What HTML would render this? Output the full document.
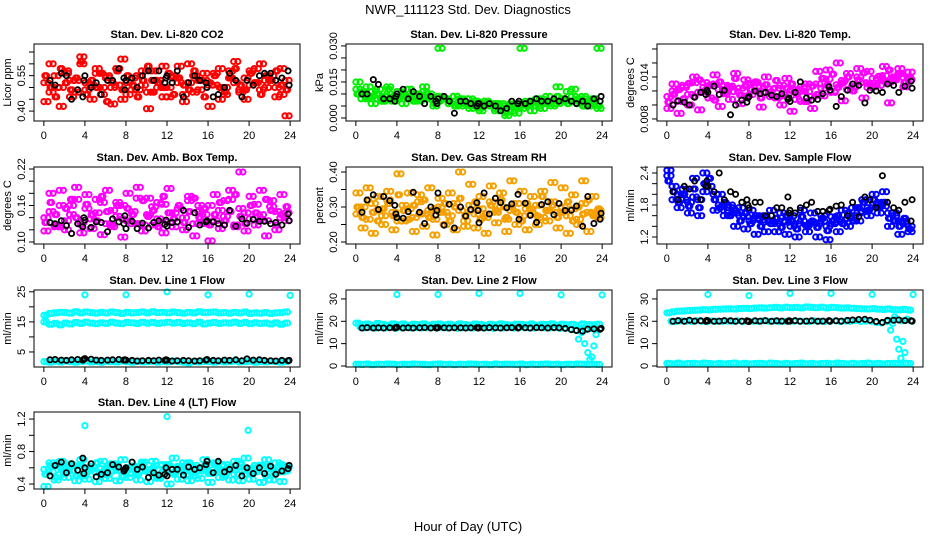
<!DOCTYPE html>
<html><head><meta charset="utf-8"><style>
html,body{margin:0;padding:0;background:#fff}
svg{display:block;font-family:"Liberation Sans",Arial,sans-serif}
</style></head><body>
<svg id="chart" width="936" height="540" viewBox="0 0 936 540" xmlns="http://www.w3.org/2000/svg">
<rect x="0" y="0" width="936" height="540" fill="#fff"/>
<text x="468" y="14" text-anchor="middle" font-size="13">NWR_111123  Std. Dev. Diagnostics</text>
<text x="468" y="531" text-anchor="middle" font-size="13">Hour of Day (UTC)</text>
</svg>
<script>
// ---------- shared x data ----------
const hoursA=[0,0.5,1,1.5,2,2.5,3,3.5,4,4.5,5,5.5,6,6.5,7,7.5,8,8.5,9,9.5,10,10.5,11,11.5,12,12.5,13,13.5,14,14.5,15,15.5,16,16.5,17,17.5,18,18.5,19,19.5,20,20.5,21,21.5,22,22.5,23,23.5];
const hoursB=[0.25,0.75,1.25,1.75,2.25,2.75,3.25,3.75,4.25,4.75,5.25,5.75,6.25,6.75,7.25,7.75,8.25,8.75,9.25,9.75,10.25,10.75,11.25,11.75,12.25,12.75,13.25,13.75,14.25,14.75,15.25,15.75,16.25,16.75,17.25,17.75,18.25,18.75,19.25,19.75,20.25,20.75,21.25,21.75,22.25,22.75,23.25,23.75];
const hoursC=[0.4,0.9,1.4,1.9,2.4,2.9,3.4,3.9,4.4,4.9,5.4,5.9,6.4,6.9,7.4,7.9,8.4,8.9,9.4,9.9,10.4,10.9,11.4,11.9,12.4,12.9,13.4,13.9,14.4,14.9,15.4,15.9,16.4,16.9,17.4,17.9,18.4,18.9,19.4,19.9,20.4,20.9,21.4,21.9,22.4,22.9,23.4,23.9];
const hoursD=[0.1,0.6,1.1,1.6,2.1,2.6,3.1,3.6,4.1,4.6,5.1,5.6,6.1,6.6,7.1,7.6,8.1,8.6,9.1,9.6,10.1,10.6,11.1,11.6,12.1,12.6,13.1,13.6,14.1,14.6,15.1,15.6,16.1,16.6,17.1,17.6,18.1,18.6,19.1,19.6,20.1,20.6,21.1,21.6,22.1,22.6,23.1,23.6];
const blackHours=[0.6,1.1,1.7,2.2,2.7,3.3,3.8,3.9,4.0,4.6,5.1,5.6,6.2,6.7,7.3,7.8,7.9,8.0,8.6,9.1,9.6,10.2,10.7,11.2,11.8,11.9,12.0,12.5,13.0,13.6,14.1,14.7,15.2,15.8,15.9,16.5,17.0,17.6,18.1,18.7,19.3,19.8,20.4,21.0,21.5,22.1,22.6,23.2,23.8,23.9];
const outlierHours=[4,8,12,16,20,24];
const xTicks=[0,4,8,12,16,20,24];

// ---------- CO2 (x0.01 ppm) ----------
const co2A=[52,48,55,50,57,46,53,60,49,51,56,47,54,50,58,45,52,49,55,51,48,57,53,46,50,54,59,47,52,55,49,53,51,56,45,50,57,52,48,54,51,58,49,53,55,50,47,53];
const co2B=[55,50,46,58,52,49,54,61,47,53,50,56,44,52,57,49,55,51,46,53,59,48,52,50,56,47,54,51,49,57,53,46,52,55,50,48,54,58,51,49,56,52,47,55,53,57,51,49];
const co2C=[44,60,50,42,56,53,48,63,52,45,58,50,55,43,51,62,47,54,49,57,41,53,50,59,46,55,52,44,60,48,53,56,42,51,58,47,54,61,49,45,57,52,60,50,55,46,58,38];
const co2K=[53,51,56,55,45,49,46,53,55,50,52,47,53,53,58,54,49,53,54,50,55,57,53,57,52,54,55,52,57,46,52,55,53,52,50,46,47,50,56,53,46,53,51,55,56,56,53,54,57,51];
// ---------- Pressure (x0.001 kPa) ----------
const prA=[12,10,9,11,8,9,10,7,11,9,8,10,9,11,8,7,9,8,6,9,7,6,8,5,6,7,5,4,6,5,3,5,4,6,3,5,6,7,5,6,8,7,9,7,8,6,7,4];
const prB=[10,11,8,9,10,7,12,9,8,10,9,7,10,8,9,6,7,8,7,5,8,6,5,7,4,6,5,6,4,2,5,4,6,5,7,6,8,6,7,9,8,6,7,8,5,7,6,5];
const prC=[15,8,13,6,12,7,13,8,11,6,12,9,7,13,10,5,29,8,6,9,5,8,4,7,3,7,6,3,5,1,6,2,29,7,5,8,4,9,6,13,7,11,12,6,9,5,8,29];
const prK=[10,10,16,14,8,8,7,9,10,12,8,11,9,6,9,7,6,8,9,7,2,7,7,6,5,6,6,5,6,5,3,4,7,6,7,6,7,8,7,7,8,7,8,7,6,7,5,8,7,9];
// ---------- Li-820 Temp (x0.0001 C) ----------
const tpA=[112,120,105,128,115,132,118,125,110,130,122,116,127,119,124,113,131,120,126,117,123,110,128,115,121,108,126,119,112,130,124,137,118,129,135,122,127,140,132,125,138,128,142,133,136,145,139,147];
const tpB=[104,115,122,109,131,112,136,120,128,107,133,118,125,138,114,127,122,133,110,129,119,135,113,124,130,116,120,105,127,115,138,128,144,125,132,140,120,136,146,130,126,141,134,150,138,144,132,140];
const tpC=[95,130,88,125,100,140,93,132,110,143,98,128,108,145,102,136,115,132,97,140,112,124,100,138,91,122,105,130,95,148,113,150,120,160,106,145,125,152,110,148,128,135,155,103,140,152,126,136];
const tpK=[100,106,104,100,111,118,115,121,118,127,115,121,86,100,107,104,110,112,120,116,118,114,112,116,108,110,105,118,133,110,107,108,116,126,121,98,112,121,130,128,103,121,120,118,130,128,118,127,134,124];
// ---------- Amb Box Temp (x0.001 C) ----------
const abA=[140,150,128,160,135,145,170,132,155,138,148,165,130,152,142,160,135,150,172,128,145,158,138,162,133,148,155,140,168,130,150,145,160,135,152,142,170,128,155,148,138,162,145,135,158,150,140,148];
const abB=[132,165,145,125,155,170,140,128,162,145,135,175,150,128,160,138,155,145,130,168,142,152,125,175,148,138,160,132,150,172,140,155,128,145,165,135,150,178,142,130,160,148,138,170,152,128,145,158];
const abC=[118,180,125,185,120,160,190,115,178,122,170,112,185,125,165,108,180,130,190,118,172,128,165,115,188,125,155,120,175,110,160,130,102,178,122,168,185,125,215,118,175,128,185,110,168,120,178,135];
const abK=[132,130,135,127,114,130,125,140,136,124,133,132,117,138,133,130,143,122,134,122,131,123,132,135,129,136,126,132,133,152,124,148,128,133,135,133,130,128,152,126,138,131,137,134,134,130,132,128,146,135];
// ---------- Gas Stream RH (x0.001 percent) ----------
const rhA=[280,300,265,310,290,275,320,285,260,305,295,270,315,280,290,265,300,285,275,310,290,260,305,280,295,270,315,285,300,265,290,310,275,295,280,305,270,290,315,285,300,275,295,265,310,285,280,290];
const rhB=[300,270,320,285,260,295,310,275,335,290,265,305,280,320,270,295,285,310,260,300,325,275,290,315,265,280,305,290,320,270,300,285,260,310,295,275,330,290,305,270,285,315,260,300,280,320,275,295];
const rhC=[340,240,355,225,330,250,345,235,395,260,340,230,335,245,355,220,325,250,340,235,400,245,365,240,330,225,360,255,340,230,375,250,345,235,330,250,345,260,370,240,355,225,335,250,375,230,330,270];
const rhK=[285,320,335,293,330,318,305,280,270,268,287,342,285,253,300,277,290,340,248,308,240,300,274,293,312,290,255,340,280,325,313,298,309,336,265,311,276,256,307,315,278,310,290,291,303,245,330,253,265,282];
// ---------- Sample Flow (x0.01 mL/min) ----------
const sfA=[235,215,200,190,185,195,190,205,215,200,180,170,175,165,160,158,150,155,152,148,150,145,150,148,140,145,150,142,148,145,150,140,145,148,152,155,160,165,168,175,180,185,178,165,160,150,145,140];
const sfB=[225,205,185,200,178,210,175,220,230,190,175,185,160,170,150,165,145,160,140,158,145,155,138,160,150,135,158,140,150,138,155,132,150,160,145,165,150,175,185,170,190,175,185,155,150,140,155,135];
const sfC=[245,190,175,210,165,230,160,240,215,170,200,160,180,140,175,135,170,125,160,130,170,130,165,125,160,120,170,130,165,120,160,115,158,130,170,140,175,150,190,160,200,165,205,140,165,125,150,130];
const sfK=[205,190,215,210,225,190,215,225,215,205,240,190,205,200,185,190,180,175,185,185,160,160,175,175,195,165,170,165,175,180,185,168,168,170,172,178,180,160,185,158,195,190,175,235,185,175,170,185,150,190];
// ---------- Line 1 Flow (mL/min) ----------
const l1Up=[17.2,17.8,18.0,18.2,18.1,17.9,18.4,18.0,18.3,18.1,17.9,18.2,18.0,18.3,18.1,17.8,18.2,18.0,18.1,18.3,18.0,18.4,18.1,18.2,18.0,18.3,18.1,17.9,18.2,18.0,18.4,18.1,18.2,18.3,18.0,18.1,17.9,18.2,18.0,18.3,17.8,18.0,17.9,18.1,17.8,18.0,18.1,18.3];
const l1Lo=[15.0,14.2,14.5,14.0,14.6,14.3,14.8,14.5,14.9,14.6,14.4,14.7,14.5,14.9,14.6,14.4,14.8,14.7,14.5,14.9,14.6,14.8,14.5,14.7,14.9,14.6,14.8,14.5,14.7,14.4,14.9,14.3,14.6,14.8,14.5,14.7,14.6,14.9,14.5,14.8,14.4,14.7,14.5,14.6,14.3,14.7,14.2,14.6];
const l1Bot=[1.8,1.6,1.9,1.7,2.0,1.8,1.6,1.9,2.0,1.7,1.8,1.6,1.9,1.8,1.7,2.0,1.8,1.6,1.9,1.7,1.8,1.9,1.6,1.8,1.7,2.0,1.8,1.6,1.4,1.8,1.7,1.9,1.8,1.6,1.9,1.7,1.8,2.0,1.7,1.8,1.9,1.6,1.8,1.7,1.9,1.8,1.6,1.8];
const l1Out=[24,24,25,24,24.2,23.8];
const l1K=[2.4,2.5,2.3,2.2,2.4,2.5,2.3,2.6,2.8,2.6,2.3,2.2,2.3,2.4,2.5,2.3,2.4,2.3,2.2,2.0,2.1,2.2,2.1,2.3,2.2,2.4,2.3,2.0,2.1,2.2,2.1,2.0,2.1,2.3,2.5,2.2,2.1,2.3,2.2,2.4,2.1,2.7,2.3,2.4,2.2,2.1,2.0,2.2,2.1,2.2];
// ---------- Line 2 Flow ----------
const l2Up=[19.2,18.5,18.8,18.2,19.0,18.6,18.3,18.9,18.4,18.8,18.2,18.7,18.5,18.9,18.3,18.6,18.8,18.4,18.7,18.2,18.9,18.5,18.3,18.8,18.6,18.2,18.7,18.4,18.9,18.5,18.3,18.7,18.6,18.4,18.8,18.2,18.6,18.5,18.9,18.3,18.7,18.4,18.6,18.2,18.8,18.5,18.4,18.7];
const l2Mid=[17.5,17.0,17.3,16.9,17.2,17.0,17.4,16.8,17.1,17.3,16.9,17.2,17.0,17.1,17.3,16.9,17.2,17.0,17.4,16.8,17.1,17.2,16.9,17.3,17.0,17.1,16.8,17.2,17.0,17.3,16.9,17.1,17.2,17.0,16.9,17.3,17.1,17.0,17.2,16.8,17.1,16.5,16.0,15.8,16.2,16.8,17.0,16.9];
const l2Bot=[0.8,0.7,0.9,0.6,0.8,0.7,0.9,0.8,0.6,0.8,0.7,0.9,0.8,0.7,0.6,0.8,0.9,0.7,0.8,0.6,0.8,0.7,0.9,0.8,0.7,0.8,0.6,0.9,0.7,0.8,0.8,0.7,0.9,0.6,0.8,0.7,0.8,0.9,0.7,0.8,0.6,0.8,0.7,0.9,0.8,0.7,0.8,0.7];
const l2Out=[32,32,32.5,32.5,31.8,31.8];
const dropHours2=[21.7,22.0,22.3,22.6,22.8,23.0,23.2,23.4];
const l2Drop=[12,15,10,6,3,4,9,14];
const l2K=[17.0,17.2,17.0,17.1,17.0,17.1,17.0,17.2,17.3,17.0,17.1,17.0,17.1,17.2,17.0,17.1,17.0,17.2,17.1,17.0,17.1,17.1,17.0,17.1,17.2,17.0,17.1,17.0,17.2,17.1,17.0,17.1,17.2,17.0,17.3,17.1,17.0,17.2,17.1,17.0,17.2,17.1,16.8,16.3,15.9,15.6,16.5,16.6,16.4,16.8];
// ---------- Line 3 Flow ----------
const l3Up=[23.8,24.2,24.5,24.6,24.8,24.9,25.0,25.2,25.1,25.3,25.4,25.5,25.6,25.5,25.7,25.8,25.7,25.9,26.0,25.9,26.1,26.2,26.0,26.3,26.1,26.2,26.0,26.4,26.2,26.1,26.3,26.0,26.2,26.1,25.9,26.0,25.8,25.7,25.6,25.5,25.7,25.4,25.3,25.5,25.2,25.1,25.3,25.0];
const l3Mid=[20.0,19.8,20.2,20.1,19.9,20.3,20.0,19.8,20.2,20.0,19.9,20.1,20.0,20.2,19.8,20.1,20.0,19.9,20.2,20.0,20.1,19.8,20.0,20.2,19.9,20.1,20.0,19.8,20.2,20.1,19.9,20.0,20.2,19.8,20.1,20.0,20.3,19.9,20.1,20.0,19.5,19.2,19.8,20.5,21.0,20.2,20.5,20.0];
const l3Bot=[1.2,1.0,1.3,0.9,1.1,1.2,1.0,1.3,1.1,0.9,1.2,1.0,1.1,1.3,1.0,1.2,0.9,1.1,1.2,1.0,1.3,1.1,0.9,1.2,1.0,1.1,1.3,1.0,1.2,0.9,1.1,1.2,1.0,1.3,1.1,0.9,1.2,1.0,1.1,1.3,1.0,1.2,0.9,1.1,1.2,1.0,1.3,1.1];
const l3Out=[32,31.5,32.5,32.5,32,32];
const dropHours3=[21.8,22.0,22.2,22.4,22.6,22.8,23.0,23.2,23.4];
const l3Drop=[16,19,22,12,7.5,3.5,11,6,21];
const l3K=[20.0,20.3,20.0,20.5,20.1,20.2,20.0,20.4,20.2,20.0,20.1,20.3,20.2,20.0,20.1,20.2,20.0,19.9,20.2,20.1,20.3,20.0,20.2,20.1,20.0,20.2,20.1,20.3,20.0,20.1,20.2,20.0,20.1,20.3,20.0,20.2,20.1,20.4,20.6,20.8,20.9,20.5,19.9,19.5,20.4,20.5,20.6,20.3,20.2,20.1];
// ---------- Line 4 (LT) Flow ----------
const l4A=[0.58,0.55,0.62,0.52,0.60,0.56,0.63,0.50,0.58,0.61,0.54,0.59,0.52,0.62,0.57,0.55,0.60,0.53,0.61,0.56,0.58,0.52,0.63,0.55,0.59,0.54,0.62,0.57,0.52,0.60,0.56,0.61,0.53,0.58,0.62,0.55,0.59,0.52,0.61,0.57,0.54,0.60,0.56,0.62,0.53,0.58,0.55,0.60];
const l4B=[0.52,0.63,0.48,0.60,0.55,0.65,0.50,0.62,0.54,0.58,0.66,0.51,0.60,0.56,0.64,0.49,0.57,0.62,0.52,0.65,0.55,0.60,0.48,0.58,0.64,0.52,0.60,0.55,0.66,0.50,0.58,0.62,0.53,0.64,0.56,0.50,0.61,0.57,0.65,0.52,0.59,0.55,0.63,0.50,0.60,0.54,0.64,0.56];
const l4C=[0.37,0.66,0.45,0.68,0.48,0.64,0.44,0.70,0.46,0.62,0.43,0.68,0.47,0.65,0.44,0.70,0.48,0.62,0.45,0.67,0.43,0.68,0.47,0.64,0.40,0.72,0.46,0.66,0.44,0.63,0.47,0.70,0.42,0.66,0.48,0.64,0.45,0.68,0.44,0.72,0.46,0.63,0.42,0.70,0.45,0.66,0.43,0.62];
const l4Out=[1.12,1.23,1.06];
const l4OutHours=[4,12,19.9];
const l4K=[0.50,0.63,0.67,0.54,0.65,0.57,0.72,0.53,0.60,0.65,0.49,0.52,0.54,0.64,0.61,0.56,0.58,0.60,0.67,0.58,0.61,0.48,0.54,0.51,0.52,0.60,0.50,0.58,0.58,0.51,0.61,0.58,0.60,0.64,0.68,0.54,0.68,0.55,0.58,0.63,0.50,0.60,0.53,0.60,0.53,0.62,0.52,0.56,0.59,0.63];

// ---------- layout ----------
const colX=[[34,300],[346,612],[657,923]];
const rowY=[[44,121],[167,244],[290,367],[412,489]];
const XMIN=-0.96, XMAX=24.96;
const svg=document.getElementById('chart');
const NS='http://www.w3.org/2000/svg';
function mk(tag,attrs,parent){const e=document.createElementNS(NS,tag);for(const k in attrs)e.setAttribute(k,attrs[k]);(parent||svg).appendChild(e);return e;}
function dense(A,B,C,s,col){return [[hoursA,A,s,col],[hoursB,B,s,col],[hoursC,C,s,col],[hoursD,B,s,col],[hoursC,A,s,col],[hoursA,C,s,col]];}

const panels=[
 {id:'co2',title:'Stan. Dev. Li-820 CO2',ytitle:'Licor ppm',c:0,r:0,ylim:[0.358,0.684],ticks:[0.40,0.45,0.50,0.55,0.60,0.65],labels:['0.40','','','0.55','',''],
  series:dense(co2A,co2B,co2C,0.01,'#ff0000').concat([[blackHours,co2K,0.01,'#000000']])},
 {id:'pressure',title:'Stan. Dev. Li-820 Pressure',ytitle:'kPa',c:1,r:0,ylim:[-0.00125,0.0308],ticks:[0,0.005,0.010,0.015,0.020,0.025,0.030],labels:['0.000','','','0.015','','','0.030'],
  series:dense(prA,prB,prC,0.001,'#00ee00').concat([[blackHours,prK,0.001,'#000000']])},
 {id:'li820-temp',title:'Stan. Dev. Li-820 Temp.',ytitle:'degrees C',c:2,r:0,ylim:[0.00771,0.01871],ticks:[0.008,0.010,0.012,0.014,0.016,0.018],labels:['0.008','','','0.014','',''],
  series:dense(tpA,tpB,tpC,0.0001,'#ff00ff').concat([[blackHours,tpK,0.0001,'#000000']])},
 {id:'amb-box-temp',title:'Stan. Dev. Amb. Box Temp.',ytitle:'degrees C',c:0,r:1,ylim:[0.0967,0.2233],ticks:[0.10,0.12,0.14,0.16,0.18,0.20,0.22],labels:['0.10','','','0.16','','','0.22'],
  series:dense(abA,abB,abC,0.001,'#ff00ff').concat([[blackHours,abK,0.001,'#000000']])},
 {id:'gas-rh',title:'Stan. Dev. Gas Stream RH',ytitle:'percent',c:1,r:1,ylim:[0.1943,0.4143],ticks:[0.20,0.25,0.30,0.35,0.40],labels:['0.20','','0.30','','0.40'],
  series:dense(rhA,rhB,rhC,0.001,'#f5a000').concat([[blackHours,rhK,0.001,'#000000']])},
 {id:'sample-flow',title:'Stan. Dev. Sample Flow',ytitle:'ml/min',c:2,r:1,ylim:[1.069,2.5125],ticks:[1.2,1.4,1.6,1.8,2.0,2.2,2.4],labels:['1.2','','','1.8','','','2.4'],
  series:dense(sfA,sfB,sfC,0.01,'#0000ff').concat([[blackHours,sfK,0.01,'#000000']])},
 {id:'line1-flow',title:'Stan. Dev. Line 1 Flow',ytitle:'ml/min',c:0,r:2,ylim:[0,25.6],ticks:[5,10,15,20,25],labels:['5','','15','','25'],
  series:[[hoursA,l1Up,1,'#00ffff'],[hoursB,l1Up,1,'#00ffff'],[hoursA,l1Lo,1,'#00ffff'],[hoursB,l1Lo,1,'#00ffff'],[hoursA,l1Bot,1,'#00ffff'],[hoursB,l1Bot,1,'#00ffff'],[outlierHours,l1Out,1,'#00ffff'],[blackHours,l1K,1,'#000000']]},
 {id:'line2-flow',title:'Stan. Dev. Line 2 Flow',ytitle:'ml/min',c:1,r:2,ylim:[-0.45,34],ticks:[0,10,20,30],labels:['0','10','20','30'],
  series:[[hoursA,l2Up,1,'#00ffff'],[hoursB,l2Up,1,'#00ffff'],[hoursC,l2Mid,1,'#00ffff'],[hoursA,l2Bot,1,'#00ffff'],[hoursB,l2Bot,1,'#00ffff'],[outlierHours,l2Out,1,'#00ffff'],[dropHours2,l2Drop,1,'#00ffff'],[blackHours,l2K,1,'#000000']]},
 {id:'line3-flow',title:'Stan. Dev. Line 3 Flow',ytitle:'ml/min',c:2,r:2,ylim:[-0.45,34],ticks:[0,10,20,30],labels:['0','10','20','30'],
  series:[[hoursA,l3Up,1,'#00ffff'],[hoursB,l3Up,1,'#00ffff'],[hoursC,l3Mid,1,'#00ffff'],[hoursA,l3Bot,1,'#00ffff'],[hoursB,l3Bot,1,'#00ffff'],[outlierHours,l3Out,1,'#00ffff'],[dropHours3,l3Drop,1,'#00ffff'],[blackHours,l3K,1,'#000000']]},
 {id:'line4-flow',title:'Stan. Dev. Line 4 (LT) Flow',ytitle:'ml/min',c:0,r:3,ylim:[0.339,1.287],ticks:[0.4,0.6,0.8,1.0,1.2],labels:['0.4','','0.8','','1.2'],
  series:dense(l4A,l4B,l4C,1,'#00ffff').concat([[l4OutHours,l4Out,1,'#00ffff'],[blackHours,l4K,1,'#000000']])}
];

panels.forEach(p=>{
  const [x0,x1]=colX[p.c],[y0,y1]=rowY[p.r];
  const g=mk('g',{});
  
  
  const sx=v=>x0+(v-XMIN)/(XMAX-XMIN)*(x1-x0);
  const sy=v=>y1-(v-p.ylim[0])/(p.ylim[1]-p.ylim[0])*(y1-y0);
  const t=mk('text',{x:(x0+x1)/2,y:y0-6,'text-anchor':'middle','font-size':11,'font-weight':'bold'},g);
  t.textContent=p.title;
  
  
  const yt=mk('text',{x:0,y:0,'text-anchor':'middle','font-size':11,transform:`translate(${x0-23},${(y0+y1)/2}) rotate(-90)`},g);
  yt.textContent=p.ytitle;
  
  
  const mg=mk('g',{fill:'none'},g);
  
  
  p.series.forEach(s=>{
    const [hx,vals,scale,col]=s;
    const n=Math.min(hx.length,vals.length);
    const black=col==='#000000';
    for(let i=0;i<n;i++){
      const c=mk('circle',{cx:sx(hx[i]).toFixed(1),cy:sy(vals[i]*scale).toFixed(1),r:2.6,stroke:col,'stroke-width':black?1.8:2},mg);
      
      
    }
  });
  const b=mk('rect',{x:x0,y:y0,width:x1-x0,height:y1-y0,fill:'none',stroke:'#000','stroke-width':1},g);
  
  
  xTicks.forEach(v=>{
    const x=sx(v);
    mk('line',{x1:x,x2:x,y1:y1,y2:y1+5,stroke:'#000'},g);
    const tl=mk('text',{x:x,y:y1+18,'text-anchor':'middle','font-size':11},g);
    tl.textContent=v;
    
    
  });
  p.ticks.forEach((v,i)=>{
    const y=sy(v);
    mk('line',{x1:x0-5,x2:x0,y1:y,y2:y,stroke:'#000'},g);
    if(p.labels[i]){
      const tl=mk('text',{x:0,y:0,'text-anchor':'middle','font-size':11,transform:`translate(${x0-9},${y}) rotate(-90)`},g);
      tl.textContent=p.labels[i];
      
      
    }
  });
});
</script>
</body></html>
